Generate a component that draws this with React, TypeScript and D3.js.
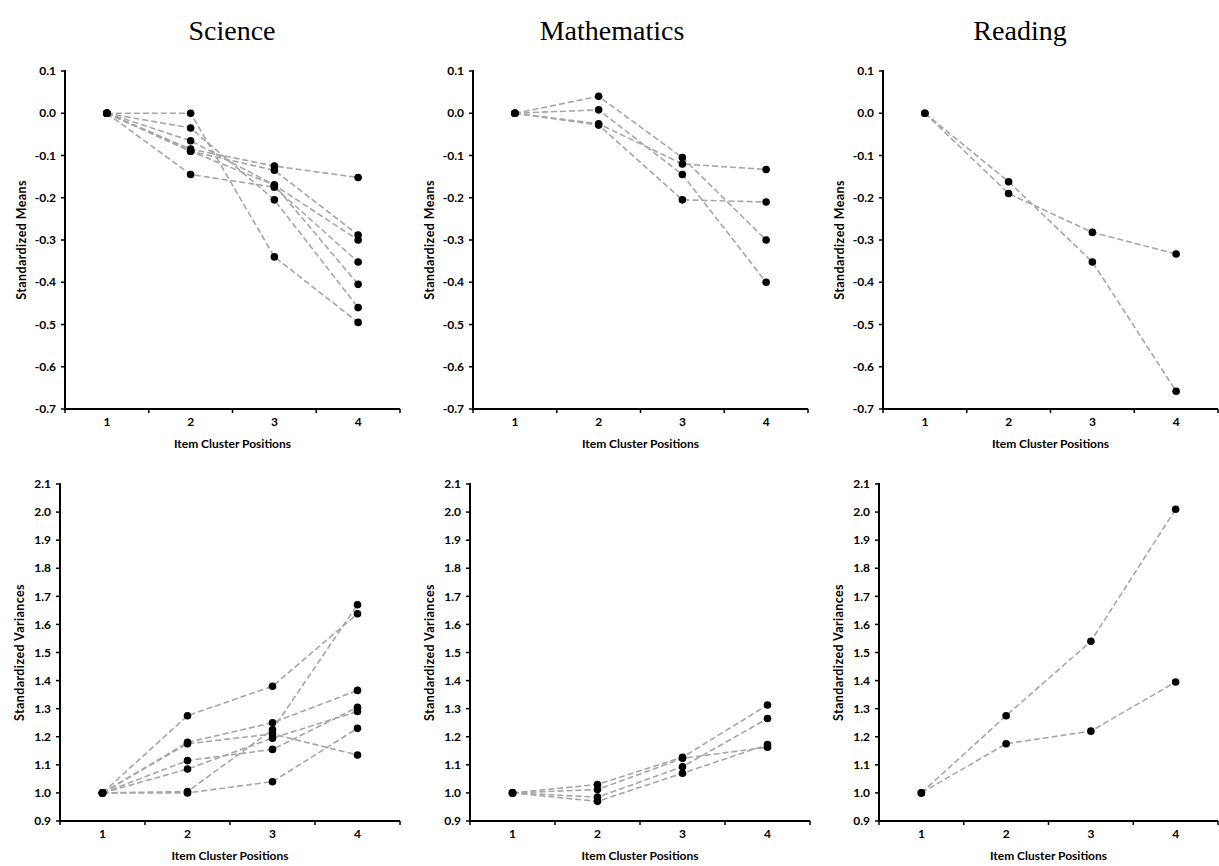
import React from 'react';
import * as d3 from 'd3';

// item cluster positions (x categories)
const positions = [1, 2, 3, 4];
const xBounds = [0.5, 1.5, 2.5, 3.5, 4.5];

// standardized means, one row per booklet series
const scienceMeans = [
  [0, 0.0, -0.34, -0.495],
  [0, -0.035, -0.205, -0.46],
  [0, -0.065, -0.17, -0.405],
  [0, -0.085, -0.125, -0.152],
  [0, -0.09, -0.135, -0.288],
  [0, -0.145, -0.175, -0.352],
  [0, -0.09, -0.17, -0.3],
];
const mathMeans = [
  [0, 0.04, -0.105, -0.3],
  [0, 0.008, -0.145, -0.4],
  [0, -0.025, -0.12, -0.133],
  [0, -0.028, -0.205, -0.21],
];
const readingMeans = [
  [0, -0.162, -0.352, -0.658],
  [0, -0.19, -0.282, -0.333],
];

// standardized variances
const scienceVars = [
  [1, 1.275, 1.38, 1.638],
  [1, 1.0, 1.04, 1.23],
  [1, 1.005, 1.225, 1.67],
  [1, 1.18, 1.25, 1.365],
  [1, 1.175, 1.21, 1.135],
  [1, 1.115, 1.155, 1.305],
  [1, 1.085, 1.195, 1.29],
];
const mathVars = [
  [1, 1.03, 1.127, 1.313],
  [1, 1.012, 1.123, 1.163],
  [1, 0.985, 1.093, 1.265],
  [1, 0.97, 1.07, 1.172],
];
const readingVars = [
  [1, 1.275, 1.54, 2.01],
  [1, 1.175, 1.22, 1.395],
];

const titles = ['Science', 'Mathematics', 'Reading'];
const meanTicks = [0.1, 0.0, -0.1, -0.2, -0.3, -0.4, -0.5, -0.6, -0.7];
const varTicks = [2.1, 2.0, 1.9, 1.8, 1.7, 1.6, 1.5, 1.4, 1.3, 1.2, 1.1, 1.0, 0.9];

const FONT = 'Lato, "Open Sans", sans-serif';

const Panel = ({ series, ticks, yLabel, left, right, top, bottom, labelGap }) => {
  const x = d3.scaleLinear().domain([0.5, 4.5]).range([left, right]);
  const y = d3.scaleLinear().domain(d3.extent(ticks)).range([bottom, top]);
  const line = d3.line<number>()
    .x((_, i) => x(positions[i]))
    .y(d => y(d));

  return (
    <g>
      {/* dashed series lines */}
      {series.map((s, i) => (
        <path key={'l' + i} d={line(s)} fill="none" stroke="#a6a6a6"
          strokeWidth={1.6} strokeDasharray="6,3" />
      ))}
      {/* axes */}
      <line x1={left} x2={left} y1={top - 1} y2={bottom} stroke="#000" strokeWidth={2} />
      <line x1={left - 1} x2={right} y1={bottom} y2={bottom} stroke="#000" strokeWidth={2} />
      {ticks.map(t => (
        <g key={'y' + t}>
          <line x1={left - 4} x2={left} y1={y(t)} y2={y(t)} stroke="#000" strokeWidth={1.5} />
          <text x={left - 9} y={y(t)} dy="0.35em" textAnchor="end"
            fontFamily={FONT} fontWeight="bold" fontSize={12}>{t.toFixed(1)}</text>
        </g>
      ))}
      {xBounds.map(b => (
        <line key={'xb' + b} x1={x(b)} x2={x(b)} y1={bottom} y2={bottom + 4}
          stroke="#000" strokeWidth={1.5} />
      ))}
      {positions.map(p => (
        <text key={'x' + p} x={x(p)} y={bottom + 13} dy="0.35em" textAnchor="middle"
          fontFamily={FONT} fontWeight="bold" fontSize={12}>{p}</text>
      ))}
      <text x={(left + right) / 2} y={bottom + 35} dy="0.35em" textAnchor="middle"
        fontFamily={FONT} fontWeight="bold" fontSize={12}>Item Cluster Positions</text>
      <text transform={`translate(${left - labelGap},${(top + bottom) / 2}) rotate(-90)`}
        dy="0.35em" textAnchor="middle" fontFamily={FONT} fontWeight="bold"
        fontSize={12.5} letterSpacing={0.4}>{yLabel}</text>
      {/* points */}
      {series.map((s, i) => s.map((v, j) => (
        <circle key={'c' + i + '-' + j} cx={x(positions[j])} cy={y(v)} r={3.8} fill="#000" />
      )))}
    </g>
  );
};

const topRow = [
  { series: scienceMeans, left: 65, right: 400 },
  { series: mathMeans, left: 473, right: 808 },
  { series: readingMeans, left: 883, right: 1218 },
];
const bottomRow = [
  { series: scienceVars, left: 60, right: 400 },
  { series: mathVars, left: 470, right: 810 },
  { series: readingVars, left: 879, right: 1218 },
];
const titleX = [232, 612, 1020];

export default function App() {
  return (
    <svg width={1219} height={866} style={{ position: 'absolute', left: 0, top: 0, background: '#fff' }}>
      {titles.map((t, i) => (
        <text key={t} x={titleX[i]} y={40} textAnchor="middle"
          fontFamily='"Liberation Serif", "Times New Roman", serif' fontSize={28}>{t}</text>
      ))}
      {topRow.map((p, i) => (
        <Panel key={'t' + i} series={p.series} ticks={meanTicks} yLabel="Standardized Means"
          left={p.left} right={p.right} top={71} bottom={409} labelGap={43} />
      ))}
      {bottomRow.map((p, i) => (
        <Panel key={'b' + i} series={p.series} ticks={varTicks} yLabel="Standardized Variances"
          left={p.left} right={p.right} top={484} bottom={821} labelGap={40} />
      ))}
    </svg>
  );
}
